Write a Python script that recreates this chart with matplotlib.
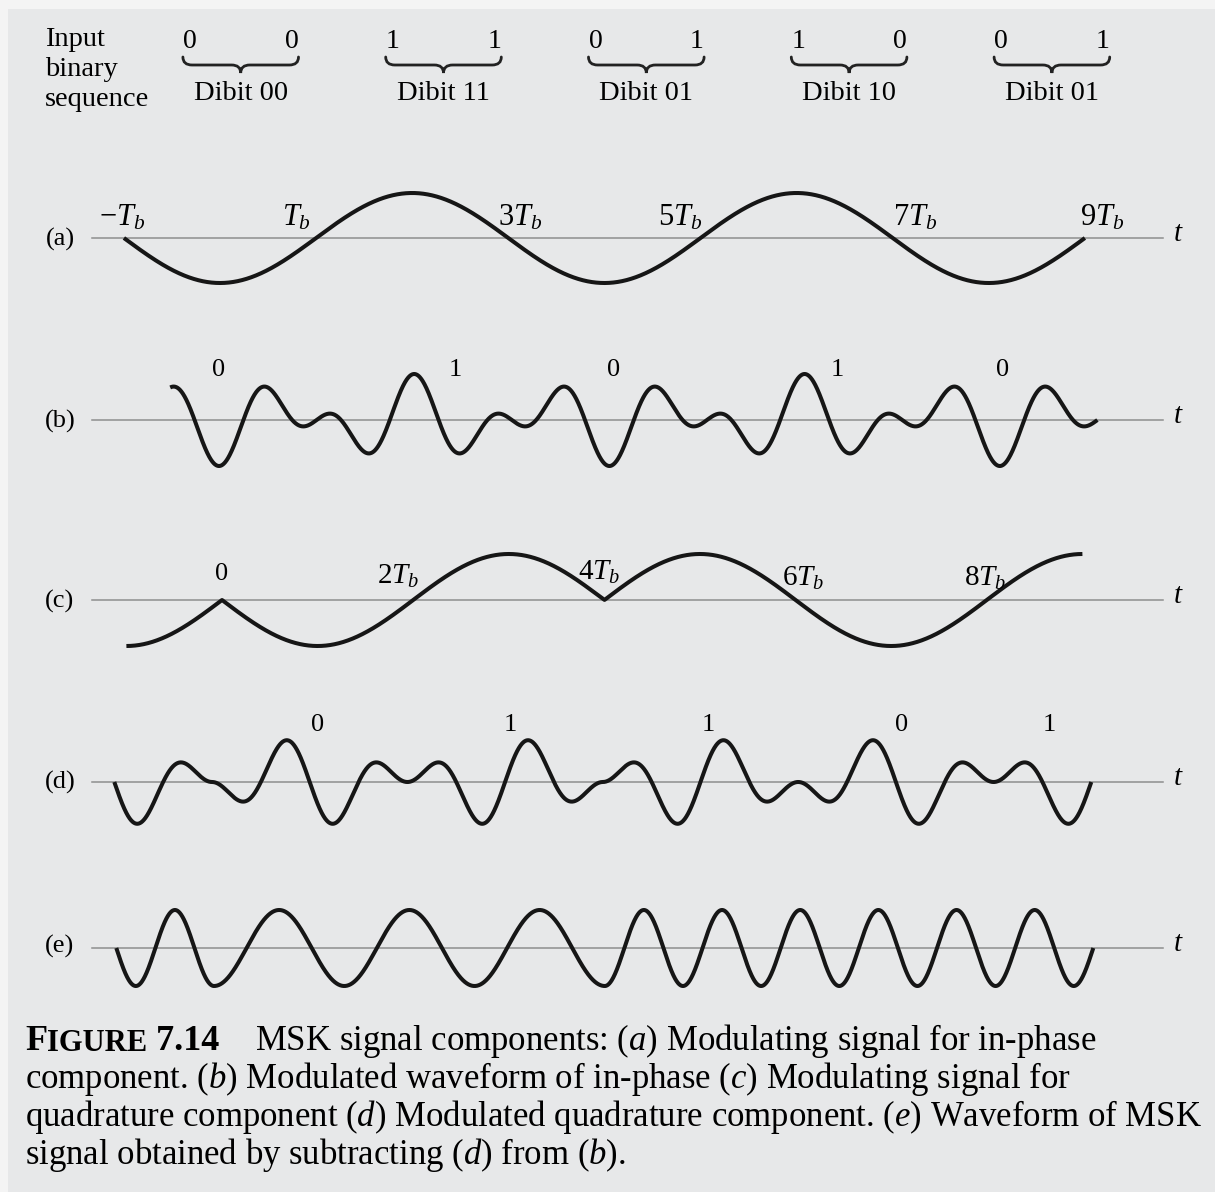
import numpy as np
import matplotlib.pyplot as plt
from matplotlib.path import Path
from matplotlib.patches import PathPatch, Rectangle

plt.rcParams['font.family'] = ['Liberation Serif', 'DejaVu Serif']
plt.rcParams['mathtext.fontset'] = 'custom'
plt.rcParams['mathtext.rm'] = 'Liberation Serif'
plt.rcParams['mathtext.it'] = 'Liberation Serif:italic'
plt.rcParams['mathtext.bf'] = 'Liberation Serif:bold'

# input data
bits = [0, 0, 1, 1, 0, 1, 1, 0, 0, 1]
i_bits = bits[0::2]          # in-phase bits  -> 0 1 0 1 0
q_bits = bits[1::2]          # quadrature bits -> 0 1 1 0 1
q_prev = 0                   # quadrature bit before t = 0
dibit_names = ['Dibit 00', 'Dibit 11', 'Dibit 01', 'Dibit 10', 'Dibit 01']
fc = 1.0                     # carrier cycles per Tb

a_labels = [r'$-T_b$', r'$T_b$', r'$3T_b$', r'$5T_b$', r'$7T_b$', r'$9T_b$']
a_label_t = [-1.02, 0.80, 3.12, 4.79, 7.23, 9.18]
c_labels = ['0', r'$2T_b$', r'$4T_b$', r'$6T_b$', r'$8T_b$']
c_label_t = [0.0, 1.84, 3.95, 6.08, 7.98]
c_label_h = [26, 24, 28, 22, 22]
b_label_t = [0.0, 2.42, 4.04, 6.34, 8.03]
d_label_t = [1.08, 3.05, 5.08, 7.06, 8.57]

caption = [
    'MSK signal components: ($a$) Modulating signal for in-phase',
    'component. ($b$) Modulated waveform of in-phase ($c$) Modulating signal for',
    'quadrature component ($d$) Modulated quadrature component. ($e$) Waveform of MSK',
    'signal obtained by subtracting ($d$) from ($b$).',
]

# signals
t = np.linspace(-1, 9, 4000)
aI = np.array([1 if b else -1 for b in i_bits])
aQ = np.array([1 if b else -1 for b in [q_prev] + q_bits])
k_i = np.clip(np.round(t / 2).astype(int), 0, len(aI) - 1)
k_q = np.clip(np.floor(t / 2).astype(int) + 1, 0, len(aQ) - 1)
m_i = aI[k_i] * np.abs(np.cos(np.pi * t / 2))
m_q = aQ[k_q] * np.abs(np.sin(np.pi * t / 2))
s_i = m_i * np.cos(2 * np.pi * fc * t)
s_q = m_q * np.sin(2 * np.pi * fc * t)
msk = s_i + s_q   # (d) is drawn with the -sin carrier already folded in

W, H = 1215, 1192
fig = plt.figure(figsize=(W / 100, H / 100), dpi=100)
fig.patch.set_facecolor('#f4f4f4')
fig.patches.append(Rectangle((8 / W, 0), 1, 1 - 9 / H, transform=fig.transFigure,
                             facecolor='#e7e8e9', edgecolor='none', zorder=-10))

ink = '#161616'
axis_col = '#8e8e8e'


def panel(center, amp, px0, ppt, half=95):
    ax = fig.add_axes([0, (H - center - half) / H, 1, 2 * half / H])
    ax.set_axis_off()
    ax.set_xlim(-px0 / ppt, (W - px0) / ppt)
    ax.set_ylim(-half / amp, half / amp)
    ax.axhline(0, xmin=92 / W, xmax=1163 / W, color=axis_col, lw=1.1, zorder=1)
    ax.text(1178 / W, 0.52, '$t$', transform=ax.transAxes, fontsize=21,
            ha='center', va='center')
    return ax


lw = 2.9
# (a)
ax = panel(238, 45, 220, 96.1)
ax.plot(t, m_i, color=ink, lw=lw, solid_capstyle='butt')
ax.text(60 / W, 0.49, '(a)', transform=ax.transAxes, fontsize=19, ha='center', va='center')
for lab, x in zip(a_labels, a_label_t):
    ax.text(x, 20 / 45, lab, fontsize=22, ha='center', va='center')

# (b)
ax = panel(420, 46, 219, 97.6)
sel = t >= -0.5
ax.plot(t[sel], s_i[sel], color=ink, lw=lw, solid_capstyle='butt')
ax.text(60 / W, 0.49, '(b)', transform=ax.transAxes, fontsize=19, ha='center', va='center')
for b, x in zip(i_bits, b_label_t):
    ax.text(x, 50 / 46, str(b), fontsize=19, ha='center', va='center')

# (c)
ax = panel(600, 46, 222, 95.6)
ax.plot(t, m_q, color=ink, lw=lw, solid_capstyle='butt')
ax.text(60 / W, 0.49, '(c)', transform=ax.transAxes, fontsize=19, ha='center', va='center')
for lab, x, h in zip(c_labels, c_label_t, c_label_h):
    ax.text(x, h / 46, lab, fontsize=21 if lab != '0' else 19, ha='center', va='center')

# (d)
ax = panel(782, 45, 212, 97.7)
ax.plot(t, s_q, color=ink, lw=lw, solid_capstyle='butt')
ax.text(60 / W, 0.5, '(d)', transform=ax.transAxes, fontsize=19, ha='center', va='center')
for b, x in zip(q_bits, d_label_t):
    ax.text(x, 57 / 45, str(b), fontsize=19, ha='center', va='center')

# (e)
ax = panel(948, 38, 214, 97.7)
ax.plot(t, msk, color=ink, lw=lw, solid_capstyle='butt')
ax.text(60 / W, 0.51, '(e)', transform=ax.transAxes, fontsize=19, ha='center', va='center')

# header: input bits, braces, dibit names
bit_px0, bit_ppb = 190, 101.4
hx = fig.add_axes([0, (H - 130) / H, 1, 130 / H])
hx.set_axis_off()
hx.set_xlim(-bit_px0 / bit_ppb, (W - bit_px0) / bit_ppb)
hx.set_ylim(130, 0)
for i, line in enumerate(['Input', 'binary', 'sequence']):
    hx.text((45 - bit_px0) / bit_ppb, 40 + 30 * i, line, fontsize=20.5, ha='left', va='center')
for i, b in enumerate(bits):
    hx.text(i, 41, str(b), fontsize=20, ha='center', va='center')
hw, r = 0.57, 0.09
y_top, y_mid, y_tip = 57, 65, 73
for k, name in enumerate(dibit_names):
    cx = 2 * k + 0.5
    x0, x1 = cx - hw, cx + hw
    verts = [(x0, y_top), (x0, y_mid), (x0 + r, y_mid),
             (cx - r, y_mid), (cx, y_mid), (cx, y_tip),
             (cx, y_mid), (cx + r, y_mid),
             (x1 - r, y_mid), (x1, y_mid), (x1, y_top)]
    codes = [Path.MOVETO, Path.CURVE3, Path.CURVE3,
             Path.LINETO, Path.CURVE3, Path.CURVE3,
             Path.CURVE3, Path.CURVE3,
             Path.LINETO, Path.CURVE3, Path.CURVE3]
    hx.add_patch(PathPatch(Path(verts, codes), facecolor='none', edgecolor='#222222',
                           lw=2.0, capstyle='round'))
    hx.text(cx, 94, name, fontsize=20.5, ha='center', va='center')

# caption
cap_fs = 25
y0 = 1 - 1050 / H
t1 = fig.text(25 / W, y0, 'F', fontsize=cap_fs + 1, fontweight='bold', va='baseline')
f1 = hx.annotate('IGURE', xy=(1, 0), xycoords=t1, fontsize=22,
                 fontweight='bold', va='bottom', ha='left', annotation_clip=False)
f2 = hx.annotate(' 7.14', xy=(1, 0), xycoords=f1, fontsize=cap_fs + 1,
                 fontweight='bold', va='bottom', ha='left', annotation_clip=False)
fig.text(255 / W, y0, caption[0], fontsize=cap_fs, va='baseline')
for i, line in enumerate(caption[1:]):
    fig.text(25 / W, 1 - (1050 + 38 * (i + 1)) / H, line, fontsize=cap_fs, va='baseline')

fig.savefig('out.png', dpi=100, facecolor=fig.get_facecolor())
